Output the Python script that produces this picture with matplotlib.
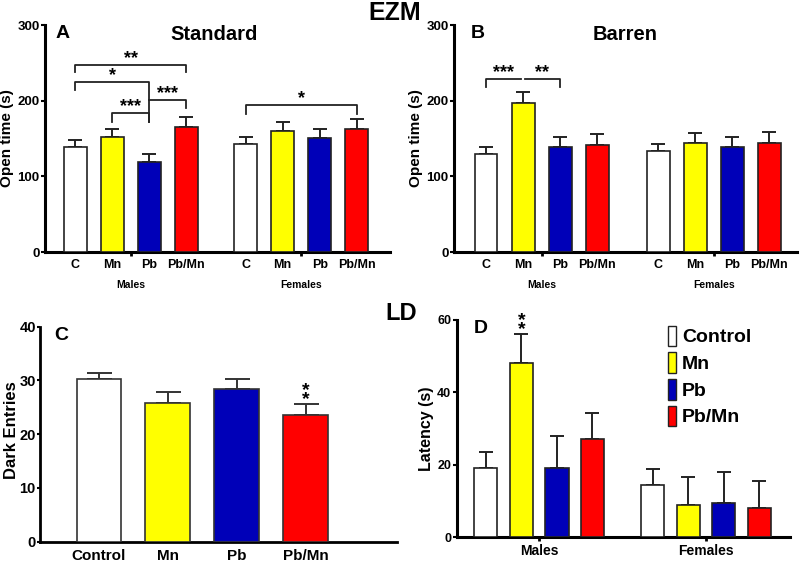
import matplotlib
matplotlib.use("Agg")
import matplotlib.pyplot as plt
from matplotlib.patches import Patch
import numpy as np

plt.rcParams['font.family'] = ['Liberation Sans', 'DejaVu Sans']
plt.rcParams['font.weight'] = 'bold'

treatments = ["C", "Mn", "Pb", "Pb/Mn"]
sexes = ["Males", "Females"]
colors = ["#FFFFFF", "#FFFF00", "#0000B8", "#FF0000"]

# Panel A: EZM Standard open time (s)
a_means = [139, 151.5, 118.5, 165, 142.7, 160, 150.6, 163]
a_err = [9, 11, 11.5, 13, 9.3, 12, 12, 12.7]
# Panel B: EZM Barren open time (s)
b_means = [129.5, 197, 139, 141.8, 133.4, 144, 139, 143.6]
b_err = [9.5, 14, 13, 14.2, 9.3, 13.6, 13, 14.4]
# Panel C: LD dark entries
c_labels = ["Control", "Mn", "Pb", "Pb/Mn"]
c_means = [30.2, 25.8, 28.5, 23.6]
c_err = [1.2, 2.0, 1.8, 2.1]
# Panel D: LD latency (s)
d_means = [19.2, 48.1, 19.2, 27.1, 14.4, 8.9, 9.6, 8.2]
d_err = [4.3, 8.1, 8.8, 7.3, 4.4, 7.9, 8.4, 7.5]
legend_labels = ["Control", "Mn", "Pb", "Pb/Mn"]

fig = plt.figure(figsize=(8, 5.61), dpi=100)


def style_axes(ax, lw=2.2):
    for s in ["top", "right"]:
        ax.spines[s].set_visible(False)
    for s in ["left", "bottom"]:
        ax.spines[s].set_linewidth(lw)
    ax.tick_params(axis='y', direction='out', length=3, width=1.5)


def grouped_bars(ax, means, errs, gap, width, xlim):
    pos = []
    for g in range(2):
        for i in range(4):
            pos.append(g * (4 + gap) + i)
    pos = np.array(pos)
    cols = colors * 2
    ax.bar(pos, means, width=width, color=cols, edgecolor='#222222', linewidth=1.2, zorder=3)
    ax.errorbar(pos, means, yerr=[np.zeros(len(errs)), errs], fmt='none', ecolor='#222222',
                elinewidth=1.4, capsize=5, capthick=1.4, zorder=2)
    ax.set_xlim(*xlim)
    return pos


def bracket(ax, x1, x2, y, leg1, leg2, text, fs=13, dy=1.0):
    ax.plot([x1, x1, x2, x2], [leg1, y, y, leg2], color='#222222', lw=1.3, zorder=4)
    ax.text((x1 + x2) / 2, y + dy, text, ha='center', va='bottom', fontsize=fs, fontweight='bold')


def stacked_stars(ax, x, y, fs=14):
    # two asterisks stacked vertically above an error bar
    ax.annotate("*\n*", xy=(x, y), xytext=(0, -0.3), textcoords='offset points',
                ha='center', va='baseline', fontsize=fs, fontweight='bold', linespacing=0.39)


def group_panel(ax, pos, ylabel):
    ax.set_ylim(0, 300)
    ax.set_yticks([0, 100, 200, 300])
    ax.tick_params(axis='y', labelsize=9.5, pad=1)
    ax.set_xticks(pos)
    ax.set_xticklabels(treatments * 2, fontsize=9)
    ax.tick_params(axis='x', length=0, pad=5)
    centers = [(pos[1] + pos[2]) / 2, (pos[5] + pos[6]) / 2]
    ax.set_xticks(centers, minor=True)
    ax.tick_params(axis='x', which='minor', length=3, width=2, direction='out')
    ax.set_ylabel(ylabel, fontsize=11, fontweight='bold', labelpad=2)
    for gx, gl in zip(centers, sexes):
        ax.text(gx, -0.125, gl, transform=ax.get_xaxis_transform(), ha='center', va='top', fontsize=7.5)


# ---------- Panel A ----------
axA = fig.add_axes([0.05625, 0.5508, 0.43125, 0.4046])
style_axes(axA)
posA = grouped_bars(axA, a_means, a_err, 0.6, 0.62, (-0.82, 8.5))
group_panel(axA, posA, "Open time (s)")
axA.text(0.03, 1.0, "A", transform=axA.transAxes, fontsize=14, fontweight='bold', va='top')
axA.text(0.49, 1.0, "Standard", transform=axA.transAxes, fontsize=14.5, fontweight='bold', va='top', ha='center')
bracket(axA, posA[0], posA[3], 247, 238, 238, "**", dy=-3)
bracket(axA, posA[0], posA[2], 225, 214, 172, "*", dy=-3)
bracket(axA, posA[2], posA[3], 201, 201, 190, "***", dy=-3)
bracket(axA, posA[1], posA[2], 183.5, 172, 172, "***", dy=-3)
bracket(axA, posA[4], posA[7], 194, 183, 183, "*", dy=-3)

# ---------- Panel B ----------
axB = fig.add_axes([0.5675, 0.5508, 0.42875, 0.4046])
style_axes(axB)
posB = grouped_bars(axB, b_means, b_err, 0.65, 0.62, (-0.865, 8.4))
group_panel(axB, posB, "Open time (s)")
axB.text(0.05, 1.0, "B", transform=axB.transAxes, fontsize=14, fontweight='bold', va='top')
axB.text(0.5, 1.0, "Barren", transform=axB.transAxes, fontsize=14.5, fontweight='bold', va='top', ha='center')
bracket(axB, posB[0], posB[1] - 0.05, 228.5, 217.5, 228.5, "***", dy=-3)
bracket(axB, posB[1] + 0.05, posB[2], 228.5, 228.5, 217.5, "**", dy=-3)

# ---------- Panel C ----------
axC = fig.add_axes([0.05, 0.0344, 0.446, 0.3832])
style_axes(axC, lw=2.0)
axC.tick_params(axis='y', length=2.5)
posC = np.arange(4)
axC.bar(posC, c_means, width=0.65, color=colors, edgecolor='#333333', linewidth=1.2, zorder=3)
axC.errorbar(posC, c_means, yerr=[np.zeros(4), c_err], fmt='none', ecolor='#333333',
             elinewidth=1.4, capsize=9, capthick=1.4, zorder=2)
axC.set_xlim(-0.855, 4.32)
axC.set_ylim(0, 40)
axC.set_yticks([0, 10, 20, 30, 40])
axC.tick_params(axis='y', labelsize=10.5, pad=0.5)
axC.set_xticks(posC)
axC.set_xticklabels(c_labels, fontsize=11)
axC.tick_params(axis='x', length=0, pad=5)
axC.set_ylabel("Dark Entries", fontsize=12, fontweight='bold')
axC.yaxis.set_label_coords(-0.058, 0.52)
axC.text(0.04, 1.0, "C", transform=axC.transAxes, fontsize=14, fontweight='bold', va='top')
stacked_stars(axC, posC[3], c_means[3] + c_err[3])

# ---------- Panel D ----------
axD = fig.add_axes([0.571, 0.042, 0.4165, 0.3876])
style_axes(axD)
posD = grouped_bars(axD, d_means, d_err, 0.69, 0.65, (-0.82, 8.56))
axD.set_ylim(0, 60)
axD.set_yticks([0, 20, 40, 60])
axD.tick_params(axis='y', labelsize=9, pad=1)
axD.set_xticks([(posD[1] + posD[2]) / 2, (posD[5] + posD[6]) / 2])
axD.set_xticklabels(sexes, fontsize=10)
axD.tick_params(axis='x', length=3, width=2, pad=2)
axD.set_ylabel("Latency (s)", fontsize=11.5, fontweight='bold', labelpad=2)
axD.text(0.05, 1.0, "D", transform=axD.transAxes, fontsize=14, fontweight='bold', va='top')
stacked_stars(axD, posD[1], d_means[1] + d_err[1])
handles = [Patch(facecolor=c, edgecolor='#222222', linewidth=1.0) for c in colors]
axD.legend(handles, legend_labels, loc='upper left', bbox_to_anchor=(0.635, 0.974), frameon=False,
           handlelength=0.4, handleheight=1.25, handletextpad=0.3, labelspacing=0.3, borderpad=0,
           borderaxespad=0, prop={'weight': 'bold', 'size': 14})

# ---------- section titles ----------
fig.text(0.493, 0.977, "EZM", ha='center', va='center', fontsize=18, fontweight='bold')
fig.text(0.501, 0.442, "LD", ha='center', va='center', fontsize=17, fontweight='bold')

fig.savefig("out.png", dpi=100)
